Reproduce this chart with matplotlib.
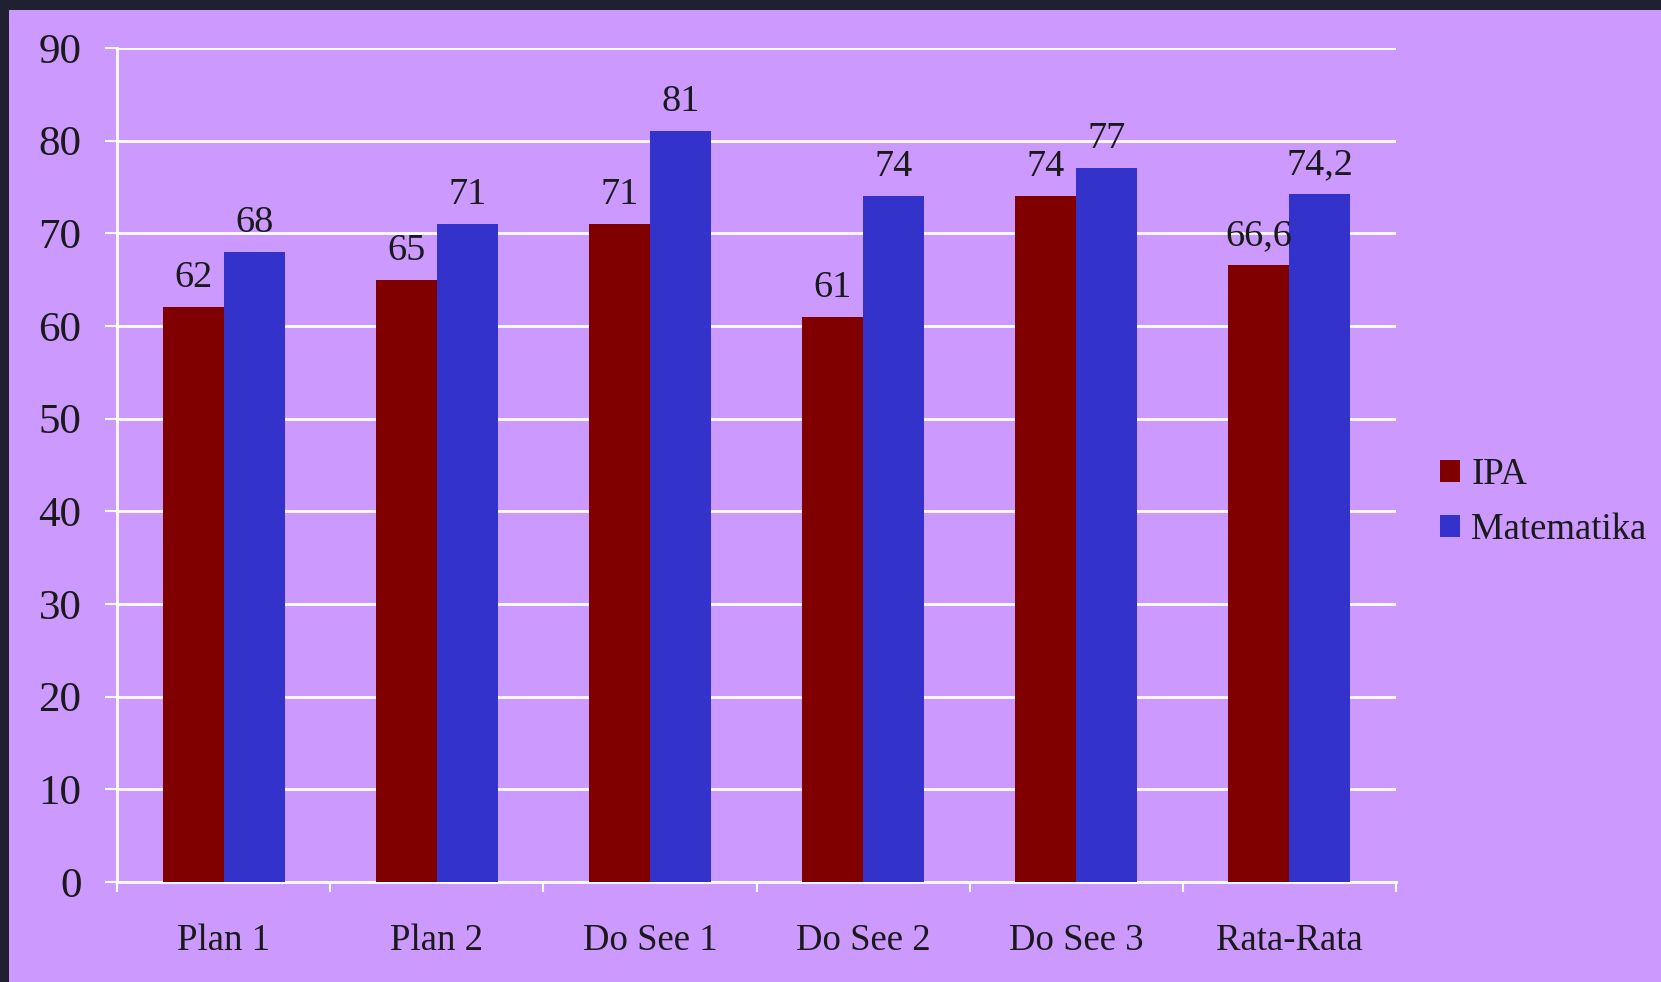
import matplotlib
matplotlib.use("Agg")
import matplotlib.pyplot as plt
from matplotlib.patches import Rectangle
import numpy as np

categories = ["Plan 1", "Plan 2", "Do See 1", "Do See 2", "Do See 3", "Rata-Rata"]
ipa = [62, 65, 71, 61, 74, 66.6]
matematika = [68, 71, 81, 74, 77, 74.2]
ipa_labels = ["62", "65", "71", "61", "74", "66,6"]
mat_labels = ["68", "71", "81", "74", "77", "74,2"]

plt.rcParams["font.family"] = ["Liberation Serif", "DejaVu Serif"]

bg = "#CC99FF"
fig = plt.figure(figsize=(16.61, 9.82), dpi=100, facecolor="#1F2130")
fig.patches.append(Rectangle((9 / 1661, 0), 1, 1 - 10 / 982, transform=fig.transFigure,
                             facecolor=bg, edgecolor="none", zorder=-10))

ax = fig.add_axes([117 / 1661, 1 - 882 / 982, (1396 - 117) / 1661, (882 - 48) / 982])
ax.set_facecolor(bg)

x = np.arange(len(categories))
w = 0.286
b1 = ax.bar(x - w / 2, ipa, w, color="#800000", label="IPA", zorder=3)
b2 = ax.bar(x + w / 2, matematika, w, color="#3333CC", label="Matematika", zorder=3)

# value labels above bars
for rect, lab in zip(b1, ipa_labels):
    ax.text(rect.get_x() + rect.get_width() / 2, rect.get_height() + 1.3, lab,
            ha="center", va="bottom", fontsize=27.5, color="#1a1a1a", zorder=4)
for rect, lab in zip(b2, mat_labels):
    ax.text(rect.get_x() + rect.get_width() / 2, rect.get_height() + 1.3, lab,
            ha="center", va="bottom", fontsize=27.5, color="#1a1a1a", zorder=4)

ax.set_xlim(-0.5, len(categories) - 0.5)
ax.set_ylim(0, 90)
ax.set_yticks(range(0, 91, 10))
ax.yaxis.grid(True, color="white", linewidth=2, zorder=1)
ax.set_axisbelow(True)
ax.set_xticks(np.arange(-0.5, len(categories), 1.0))
ax.set_xticklabels([])
ax.set_xticks(x, minor=True)
ax.set_xticklabels(categories, minor=True, fontsize=26.5, color="#1a1a1a")
ax.tick_params(axis="x", which="minor", length=0, pad=30)
ax.tick_params(axis="x", which="major", length=7, width=1.5, color="white", direction="out")
ax.tick_params(axis="y", length=8.6, width=1.5, color="white", labelsize=31,
               labelcolor="#1a1a1a", pad=17)

for s in ["top", "right"]:
    ax.spines[s].set_visible(False)
for s in ["left", "bottom"]:
    ax.spines[s].set_color("white")
    ax.spines[s].set_linewidth(2)

leg = fig.legend(loc="center left", bbox_to_anchor=(1407 / 1661, 1 - 502 / 982),
                 frameon=False, fontsize=26.5, handlelength=0.55, handleheight=0.55,
                 handletextpad=0.3, labelspacing=0.55, labelcolor="#1a1a1a")

fig.savefig("out.png", dpi=100, facecolor=fig.get_facecolor())
